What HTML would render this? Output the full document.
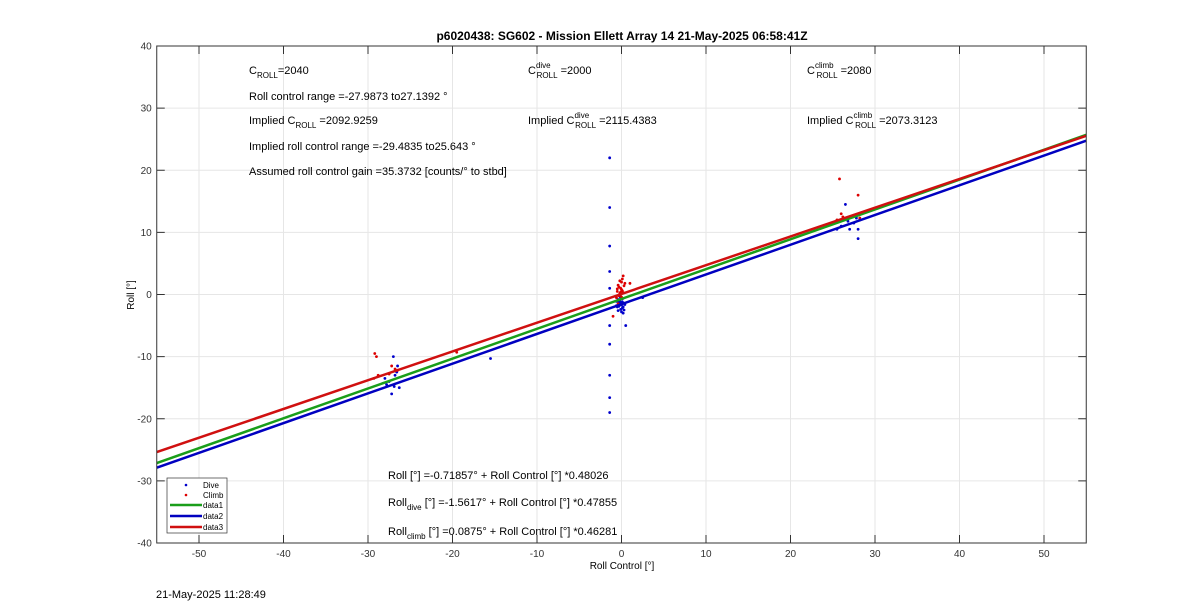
<!DOCTYPE html>
<html><head><meta charset="utf-8"><style>
body{margin:0;background:#fff;font-family:"Liberation Sans",sans-serif}
svg text{font-family:"Liberation Sans",sans-serif}
</style></head><body>
<svg id="c" width="1200" height="611" xmlns="http://www.w3.org/2000/svg">
<rect width="1200" height="611" fill="#fff"/>
<g id="grid"></g><g id="pts"></g><g id="lines"></g><g id="axes"></g>
<text x="622" y="40" text-anchor="middle" font-size="12" font-weight="bold">p6020438: SG602 - Mission Ellett Array 14 21-May-2025 06:58:41Z</text>
<text x="622" y="569" text-anchor="middle" font-size="10">Roll Control [°]</text>
<text transform="translate(134,295) rotate(-90)" text-anchor="middle" font-size="10">Roll [°]</text>
<text x="156" y="598" font-size="11">21-May-2025 11:28:49</text>
<g font-size="11">
<text x="249" y="74">C<tspan font-size="8" dy="4">ROLL</tspan><tspan dy="-4">=2040</tspan></text>
<text x="249" y="100">Roll control range =-27.9873 to27.1392 °</text>
<text x="249" y="124">Implied C<tspan font-size="8" dy="4">ROLL</tspan><tspan dy="-4"> =2092.9259</tspan></text>
<text x="249" y="150">Implied roll control range =-29.4835 to25.643 °</text>
<text x="249" y="175">Assumed roll control gain =35.3732 [counts/° to stbd]</text>
<text x="528" y="74">C<tspan font-size="8" dy="-6">dive</tspan><tspan font-size="8" dx="-14" dy="10">ROLL</tspan><tspan dy="-4"> =2000</tspan></text>
<text x="528" y="124">Implied C<tspan font-size="8" dy="-6">dive</tspan><tspan font-size="8" dx="-14" dy="10">ROLL</tspan><tspan dy="-4"> =2115.4383</tspan></text>
<text x="807" y="74">C<tspan font-size="8" dy="-6">climb</tspan><tspan font-size="8" dx="-17" dy="10">ROLL</tspan><tspan dy="-4"> =2080</tspan></text>
<text x="807" y="124">Implied C<tspan font-size="8" dy="-6">climb</tspan><tspan font-size="8" dx="-17" dy="10">ROLL</tspan><tspan dy="-4"> =2073.3123</tspan></text>
<text x="388" y="479">Roll [°] =-0.71857° + Roll Control [°] *0.48026</text>
<text x="388" y="506">Roll<tspan font-size="8" dy="4">dive</tspan><tspan dy="-4"> [°] =-1.5617° + Roll Control [°] *0.47855</tspan></text>
<text x="388" y="535">Roll<tspan font-size="8" dy="4">climb</tspan><tspan dy="-4"> [°] =0.0875° + Roll Control [°] *0.46281</tspan></text>
</g>
<g font-size="8">
<rect x="167" y="478" width="60" height="55" fill="#fff" stroke="#333" stroke-width="0.7"/>
<circle cx="186" cy="485" r="1.3" fill="#00c"/><text x="203" y="488">Dive</text>
<circle cx="186" cy="495" r="1.3" fill="#d00"/><text x="203" y="498">Climb</text>
<line x1="170" x2="202" y1="505" y2="505" stroke="#1a9e1a" stroke-width="2.5"/><text x="203" y="508">data1</text>
<line x1="170" x2="202" y1="516" y2="516" stroke="#0000c0" stroke-width="2.5"/><text x="203" y="519">data2</text>
<line x1="170" x2="202" y1="527" y2="527" stroke="#d01010" stroke-width="2.5"/><text x="203" y="530">data3</text>
</g>
</svg>
<script>
const xTicks=[-50,-40,-30,-20,-10,0,10,20,30,40,50];
const yTicks=[-40,-30,-20,-10,0,10,20,30,40];
const fitNames=['data1','data2','data3'];
const fitIntercepts=[-0.71857,-1.5617,0.0875];
const fitSlopes=[0.48026,0.47855,0.46281];
const fitColors=['#1a9e1a','#0000c0','#d01010'];
const diveX=[-1.4,-1.4,-1.4,-1.4,-1.4,-1.4,-1.4,-1.4,-1.4,-1.4,-0.2,0,-0.5,0.3,-0.1,0.2,-0.3,0.1,0.5,-0.6,2.5,-0.4,-0.2,0,0.2,-0.5,-0.1,0.1,-0.3,0.3,-0.6,0,-0.2,0.4,-0.4,0.1,-27,-26.5,-26.8,-27.5,-26.3,-27.2,-26.6,-27.8,-28,-26.9,-15.5,25.5,26,27,28,28.2,27.5,28,26.5,27.8,26.8];
const diveY=[22,14,7.8,3.7,1,-5,-8,-13,-16.6,-19,-1,-1.5,-2,-2.5,-0.5,-3,-1.2,-2.2,-5,-1.8,-0.5,-0.8,-1.3,-1.7,-2,-1,-2.4,-0.7,-1.9,-1.4,-1.1,-2.8,-0.3,-1.6,-2.6,-1.2,-10,-11.5,-13,-14,-15,-16,-12.5,-14.5,-13.5,-14.8,-10.3,10.5,11,10.5,9,12,11.5,10.5,14.5,12.3,11.8];
const climbX=[-29.2,-29,-29.3,-28.8,-27.2,-26.8,-27.5,-26.5,-0.5,-0.3,0,0.2,-0.1,0.4,-0.6,0.1,1,-1,-0.4,-0.2,0,-0.4,0.2,-0.1,-0.3,0.1,-0.5,0,-0.2,0.3,-0.1,25.5,26,25.8,26.2,28,28.2,-19.5];
const climbY=[-9.5,-10,-13.5,-13,-11.5,-12,-12.8,-12.2,0.5,1.2,2,3,0,1.8,-0.5,2.5,1.8,-3.5,-1.5,0.2,0.8,1.5,0.3,1,-0.2,0.6,0.9,-0.4,2.2,1.4,0.4,12,13,18.6,12.5,16,12.3,-9.3];
const X0=156.75,X1=1086.25,Y0=543,Y1=46,xmin=-55,xmax=55,ymin=-40,ymax=40;
const sx=v=>X0+(v-xmin)/(xmax-xmin)*(X1-X0);
const sy=v=>Y0-(v-ymin)/(ymax-ymin)*(Y0-Y1);
const NS='http://www.w3.org/2000/svg';
function mk(t,a,p){const e=document.createElementNS(NS,t);for(const k in a)e.setAttribute(k,a[k]);p.appendChild(e);return e;}
const G=document.getElementById('grid'),A=document.getElementById('axes'),P=document.getElementById('pts'),L=document.getElementById('lines');
xTicks.forEach(v=>{const x=sx(v);
 const g=mk('line',{x1:x,x2:x,y1:Y0,y2:Y1,stroke:'#e6e6e6','stroke-width':1},G);
 
 
 mk('line',{x1:x,x2:x,y1:Y0,y2:Y0-8,stroke:'#333'},A);mk('line',{x1:x,x2:x,y1:Y1,y2:Y1+8,stroke:'#333'},A);
 const t=mk('text',{x:x,y:Y0+14,'text-anchor':'middle','font-size':10,fill:'#333'},A);t.textContent=v;
 
 });
yTicks.forEach(v=>{const y=sy(v);
 const g=mk('line',{x1:X0,x2:X1,y1:y,y2:y,stroke:'#e6e6e6','stroke-width':1},G);
 
 
 mk('line',{x1:X0,x2:X0+8,y1:y,y2:y,stroke:'#333'},A);mk('line',{x1:X1,x2:X1-8,y1:y,y2:y,stroke:'#333'},A);
 const t=mk('text',{x:X0-5,y:y+3.5,'text-anchor':'end','font-size':10,fill:'#333'},A);t.textContent=v;
 
 });
const box=mk('rect',{x:X0,y:Y1,width:X1-X0,height:Y0-Y1,fill:'none',stroke:'#333','stroke-width':1},A);


diveX.forEach((v,i)=>{const c=mk('circle',{cx:sx(v),cy:sy(diveY[i]),r:1.4,fill:'#00c'},P);
 
 });
climbX.forEach((v,i)=>{const c=mk('circle',{cx:sx(v),cy:sy(climbY[i]),r:1.4,fill:'#d00'},P);
 
 });
fitNames.forEach((n,i)=>{const f=v=>fitIntercepts[i]+fitSlopes[i]*v;
 const l=mk('line',{x1:sx(xmin),y1:sy(f(xmin)),x2:sx(xmax),y2:sy(f(xmax)),stroke:fitColors[i],'stroke-width':2.5},L);
 
 });
</script>
</body></html>
